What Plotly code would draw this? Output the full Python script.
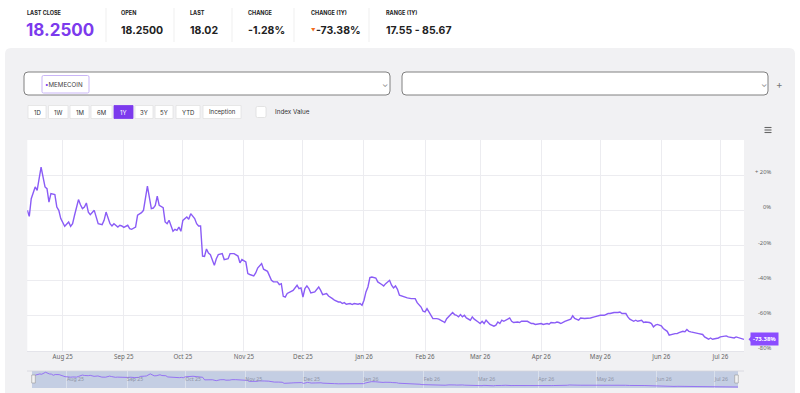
import plotly.graph_objects as go
import pandas as pd

# ---------------- data ----------------
start_date = "2025-07-14"
day_offsets = [0, 1, 2, 4, 5, 7, 9, 10, 11, 12, 14, 15, 16, 17, 19, 20, 21, 22, 23, 24,
               26, 27, 28, 29, 30, 31, 32, 34, 35, 36, 38, 39, 40, 41, 42, 43, 44, 46, 47, 48,
               49, 51, 52, 53, 55, 56, 58, 59, 61, 63, 64, 65, 66, 67, 69, 70, 71, 72, 74, 75,
               76, 77, 78, 79, 80, 81, 82, 83, 85, 86, 87, 88, 89, 90, 91, 92, 93, 95, 96, 97,
               99, 100, 102, 103, 105, 107, 108, 109, 111, 112, 113, 115, 116, 117, 119, 120, 122, 123, 124, 125,
               127, 128, 129, 130, 131, 132, 134, 135, 137, 138, 139, 140, 141, 142, 143, 144, 146, 147, 148, 149,
               150, 152, 153, 155, 156, 158, 159, 160, 161, 162, 164, 165, 166, 168, 169, 170, 171, 172, 173, 174,
               175, 177, 178, 180, 181, 182, 184, 185, 186, 187, 188, 189, 190, 191, 192, 193, 195, 196, 197, 198,
               200, 201, 202, 203, 204, 206, 208, 209, 211, 212, 213, 215, 216, 217, 218, 219, 220, 221, 222, 223,
               224, 225, 226, 227, 229, 230, 231, 232, 233, 234, 235, 237, 238, 239, 240, 241, 242, 244, 245, 246,
               247, 249, 250, 251, 253, 254, 256, 257, 258, 260, 261, 262, 264, 265, 266, 268, 269, 270, 271, 273,
               275, 276, 277, 278, 280, 281, 283, 285, 286, 288, 290, 291, 293, 295, 296, 298, 300, 301, 302, 304,
               305, 306, 308, 309, 310, 312, 313, 314, 316, 317, 318, 319, 320, 322, 323, 325, 326, 327, 329, 330,
               331, 333, 334, 335, 336, 337, 339, 340, 341, 343, 344, 346, 347, 348, 350, 351, 352, 354, 355, 356,
               358, 359, 360, 362, 364]
pct_change = [0, -3.4, 6.6, 13.3, 11.4, 24.6, 13.3, 12.3, 4.7, 9.5, 8.9, 1.9, 0, -4.7, -9.1, -8.1, -6.6, -9.1, -7.6, -2.8,
              6.1, 3.2, 1.0, 1.9, 4.2, -1.0, -2.5, 0, -4.4, -7.6, -8.1, -5.7, -1.0, -3.8, -7.6, -8.9, -7.6, -9.5, -8.5, -8.9,
              -9.7, -8.5, -10.4, -10.8, -9.5, -2.8, -1.3, 0, 13.8, 1.0, 1.3, 2.8, 8.0, 2.8, 1.5, -6.6, -7.6, -5.7, -11.9, -10.8,
              -11.4, -9.5, -11.9, -5.7, -4.7, -3.8, -5.1, -1.9, -4.7, -7.6, -8.9, -8.9, -26.0, -26.2, -22.0, -24.3, -25.2, -31.3, -27.5, -25.2,
              -24.6, -28.0, -27.5, -24.6, -24.6, -26.0, -29.9, -28.0, -29.4, -36.0, -36.5, -37.3, -35.6, -32.8, -30.3, -33.5, -34.7, -36.9, -39.8, -40.7,
              -40.7, -42.2, -41.7, -48.9, -49.3, -47.3, -46.4, -45.5, -42.6, -44.5, -44.1, -49.3, -44.5, -43.0, -44.5, -47.0, -46.4, -44.9, -43.6, -45.5,
              -47.9, -47.3, -48.7, -50.2, -51.1, -52.1, -52.1, -53.0, -52.5, -53.4, -53.0, -53.6, -53.0, -53.4, -53.0, -54.0, -51.1, -46.4, -43.6, -38.2,
              -37.9, -38.5, -40.7, -42.2, -43.0, -41.7, -39.8, -42.6, -44.1, -43.0, -44.9, -48.3, -48.7, -49.3, -49.3, -49.8, -50.2, -50.2, -50.2, -52.5,
              -55.0, -57.4, -57.8, -55.9, -57.8, -61.6, -61.6, -61.9, -63.1, -63.8, -61.6, -59.3, -58.1, -59.3, -59.7, -60.6, -59.3, -60.6, -59.7, -61.2,
              -61.9, -62.5, -60.6, -61.9, -63.5, -64.4, -63.1, -64.4, -62.5, -63.8, -64.9, -65.9, -65.3, -63.5, -64.4, -62.5, -63.1, -61.9, -61.2, -63.1,
              -63.8, -63.5, -63.8, -63.1, -63.1, -63.1, -64.4, -64.4, -64.9, -64.4, -64.4, -64.9, -64.4, -64.8, -63.8, -64.0, -63.5, -63.8, -64.4, -63.1,
              -62.5, -61.9, -60.0, -61.5, -62.5, -61.2, -61.5, -61.5, -61.2, -60.6, -60.0, -59.7, -59.7, -58.7, -58.7, -58.1, -58.1, -57.8, -58.7, -58.7,
              -60.6, -61.9, -63.1, -62.5, -63.1, -62.5, -63.8, -63.5, -63.8, -64.4, -66.3, -65.3, -64.9, -65.7, -67.2, -68.8, -71.0, -70.6, -70.1, -70.1,
              -69.5, -68.8, -69.1, -67.8, -68.8, -69.1, -69.5, -69.5, -70.1, -70.6, -72.0, -73.3, -72.6, -73.3, -72.9, -72.6, -72.0, -71.4, -71.4, -72.0,
              -72.6, -72.6, -72.0, -72.6, -73.38]

header_labels = ["LAST CLOSE", "OPEN", "LAST", "CHANGE", "CHANGE (1Y)", "RANGE (1Y)"]
header_values = ["18.2500", "18.2500", "18.02", "-1.28%", "-73.38%", "17.55 - 85.67"]
range_buttons = ["1D", "1W", "1M", "6M", "1Y", "3Y", "5Y", "YTD", "Inception"]
active_button = "1Y"
series_name = "MEMECOIN"
y_ticks = [20, 0, -20, -40, -60, -80]
y_tick_labels = ["+ 20%", "0%", "-20%", "-40%", "-60%", "-80%"]
last_label = "-73.38%"

dates = pd.to_datetime(start_date) + pd.to_timedelta(day_offsets, unit="D")
x_start = pd.to_datetime(start_date)
x_end = x_start + pd.Timedelta(days=364)

# ---------------- style / layout helpers ----------------
W, H = 800, 393
PURPLE = "#8a5cf6"
PURPLE_DARK = "#7c3aed"
PANEL = "#f1f1f3"
FONT = "Inter, Noto Sans, sans-serif"
CFONT = "Noto Sans, DejaVu Sans, sans-serif"


def X(px):
    return px / W


def Y(py):
    return 1 - py / H


def rrect(x0, y0, x1, y1, r, fill, line="rgba(0,0,0,0)", lw=0, layer="below"):
    rx, ry = r / W, r / H
    a, b, c, d = X(x0), Y(y0), X(x1), Y(y1)
    path = (f"M{a+rx},{b} L{c-rx},{b} Q{c},{b} {c},{b-ry} L{c},{d+ry} Q{c},{d} {c-rx},{d} "
            f"L{a+rx},{d} Q{a},{d} {a},{d+ry} L{a},{b-ry} Q{a},{b} {a+rx},{b} Z")
    return dict(type="path", xref="paper", yref="paper", path=path, fillcolor=fill,
                line=dict(color=line, width=lw), layer=layer)


def rect(x0, y0, x1, y1, fill, line="rgba(0,0,0,0)", lw=0, layer="below"):
    return dict(type="rect", xref="paper", yref="paper", x0=X(x0), x1=X(x1), y0=Y(y1), y1=Y(y0),
                fillcolor=fill, line=dict(color=line, width=lw), layer=layer)


def text(px, py, s, size, color="#222", anchor="left", bold=False, family=FONT):
    return dict(x=X(px), y=Y(py), xref="paper", yref="paper", text=f"<b>{s}</b>" if bold else s,
                showarrow=False, xanchor=anchor, yanchor="middle",
                font=dict(size=size, color=color, family=family))


shapes, annos = [], []

# panel background
shapes.append(rrect(5, 48, 795, 400, 6, PANEL))
# main plot area
shapes.append(rect(27.3, 140, 744, 351, "white"))

# ---------------- header ----------------
label_x = [25, 119, 188, 246, 309, 384]
sep_x = [106, 174, 232, 294, 369]
for sx in sep_x:
    shapes.append(dict(type="line", xref="paper", yref="paper", x0=X(sx), x1=X(sx), y0=Y(8), y1=Y(42),
                       line=dict(color="#efefef", width=1)))
for i, (lab, val) in enumerate(zip(header_labels, header_values)):
    annos.append(text(label_x[i], 12.5, lab, 5.5, "#222", bold=True))
    if i == 0:
        annos.append(text(label_x[i] - 1, 30, val, 17, PURPLE_DARK, bold=True))
    elif i == 4:
        annos.append(text(label_x[i], 30, "▼", 4.5, "#f26b1d"))
        annos.append(text(label_x[i] + 5, 30, val, 10.5, "#222", bold=True))
    else:
        annos.append(text(label_x[i], 30, val, 10.5, "#222", bold=True))

# ---------------- dropdowns ----------------
shapes.append(rrect(24, 72, 390, 95, 4, "white", "#808080", 1, layer="above"))
shapes.append(rrect(402, 72, 768, 95, 4, "white", "#808080", 1, layer="above"))
shapes.append(rrect(42, 75.5, 89, 93, 1.5, "rgba(0,0,0,0)", "#c9b5f7", 1, layer="above"))
annos.append(text(43, 84, "<span style='color:%s'>•</span>%s" % (PURPLE_DARK, series_name), 6.2, "#444"))
annos.append(text(385, 84, "⌄", 8, "#888", anchor="center"))
annos.append(text(764, 84, "⌄", 8, "#888", anchor="center"))
annos.append(text(779, 84, "+", 10, "#777", anchor="center"))

# ---------------- range buttons ----------------
btn_x = [(28, 46), (48.5, 68), (70, 89), (91, 112), (114, 133), (135, 153), (155, 173), (176, 200), (203, 241)]
for (bx0, bx1), lab in zip(btn_x, range_buttons):
    active = lab == active_button
    shapes.append(rect(bx0, 105.5, bx1, 118.5, PURPLE_DARK if active else "white",
                       PURPLE_DARK if active else "#e2e2e2", 0.8, layer="above"))
    annos.append(text((bx0 + bx1) / 2, 112, lab, 6, "white" if active else "#333", anchor="center"))
shapes.append(rrect(256, 106.5, 266, 117.5, 1.5, "white", "#dddddd", 0.8, layer="above"))
annos.append(text(273, 112, "Index Value", 6.3, "#333"))

# hamburger menu
for hy in (127.5, 130, 132.5):
    shapes.append(dict(type="line", xref="paper", yref="paper", x0=X(764.5), x1=X(771.5), y0=Y(hy), y1=Y(hy),
                       line=dict(color="#666", width=1.1)))

# ---------------- y tick labels (right side) ----------------
for v, lab in zip(y_ticks, y_tick_labels):
    annos.append(dict(x=X(773), y=v, xref="paper", yref="y", text=lab, showarrow=False,
                      xanchor="right", yanchor="middle", yshift=3,
                      font=dict(size=5.8, color="#666", family=CFONT)))

# last value flag
last_val = pct_change[-1]
annos.append(dict(x=X(764.5), y=last_val, xref="paper", yref="y", text=f"<b>{last_label}</b>",
                  showarrow=False, xanchor="center", yanchor="middle", bgcolor="#8b4dff",
                  borderpad=2, font=dict(size=6, color="white", family=CFONT)))
shapes.append(dict(type="path", xref="paper", yref="y",
                   path=f"M{X(748.5)},{last_val} L{X(752.5)},{last_val + 2.4} L{X(752.5)},{last_val - 2.4} Z",
                   fillcolor="#8b4dff", line=dict(width=0), layer="above"))

# ---------------- navigator ----------------
shapes.append(rect(32, 371, 738, 388, "rgba(102,133,194,0.32)"))
shapes.append(dict(type="line", xref="paper", yref="paper", x0=X(27), x1=X(744), y0=Y(371), y1=Y(371),
                   line=dict(color="#d6d6dc", width=0.8), layer="below"))
for hx in (33.5, 736.5):
    shapes.append(rect(hx - 1.8, 375, hx + 1.8, 383, "#f2f2f2", "#999999", 0.6, layer="above"))

# ---------------- figure ----------------
fig = go.Figure()
fig.add_trace(go.Scatter(x=dates, y=pct_change, mode="lines", line=dict(color=PURPLE, width=1.4),
                         hoverinfo="x+y", showlegend=False, xaxis="x", yaxis="y"))
fig.add_trace(go.Scatter(x=dates, y=pct_change, mode="lines", line=dict(color=PURPLE, width=0.8),
                         hoverinfo="skip", showlegend=False, xaxis="x2", yaxis="y2"))

fig.update_layout(
    width=W, height=H, margin=dict(l=0, r=0, t=0, b=0),
    paper_bgcolor="white", plot_bgcolor="rgba(0,0,0,0)",
    font=dict(family=CFONT),
    showlegend=False,
    xaxis=dict(domain=[X(27.3), X(744)], range=[x_start, x_end], type="date",
               tickformat="%b %y", dtick="M1", tick0="2025-08-01", ticks="",
               showgrid=True, gridcolor="#ececf0", gridwidth=1,
               showline=True, linecolor="#e4e4ea", linewidth=1, zeroline=False,
               tickfont=dict(size=6.2, color="#666", family=CFONT), fixedrange=True),
    yaxis=dict(domain=[Y(351), Y(140)], range=[-80, 40], tickvals=y_ticks, showticklabels=False,
               showgrid=True, gridcolor="#ececf0", gridwidth=1, zeroline=False, fixedrange=True),
    xaxis2=dict(domain=[X(32), X(738)], range=[x_start, x_end], type="date", anchor="y2",
                tickformat="%b %y", dtick="M1", tick0="2025-08-01", ticks="",
                ticklabelposition="inside right",
                showgrid=True, gridcolor="rgba(235,238,246,0.55)", gridwidth=1,
                showline=False, zeroline=False,
                tickfont=dict(size=5.2, color="#8e93a6", family=CFONT), fixedrange=True),
    yaxis2=dict(domain=[Y(388), Y(371)], range=[-80, 33], anchor="x2", visible=False, fixedrange=True),
    shapes=shapes, annotations=annos,
)

fig.write_html("out.html", config={"displayModeBar": False})
